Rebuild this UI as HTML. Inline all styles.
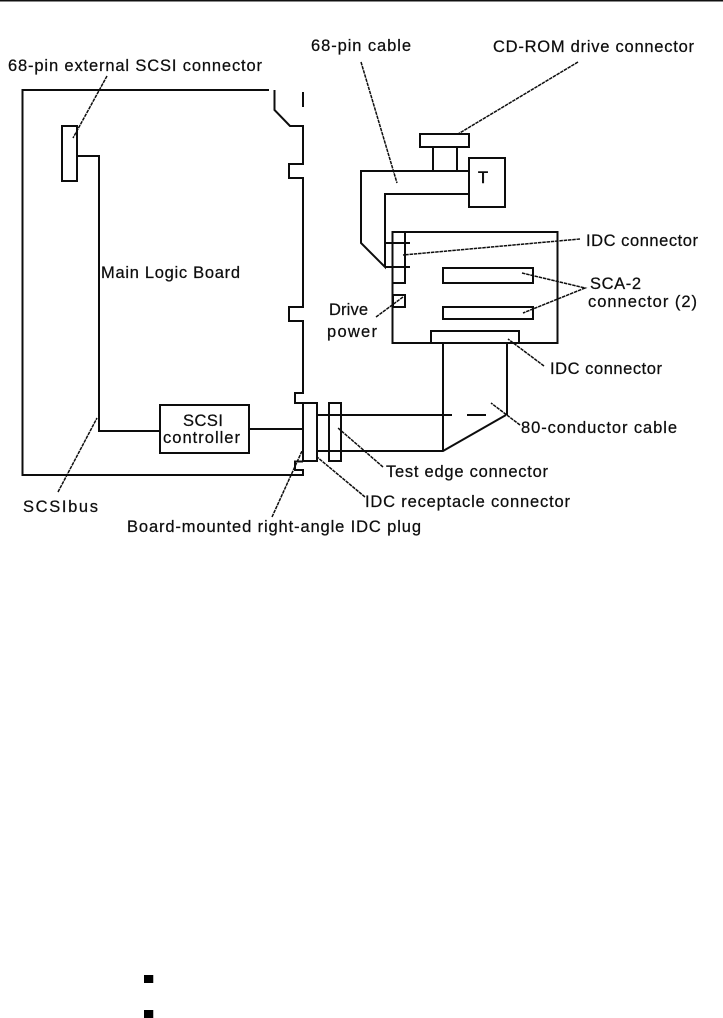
<!DOCTYPE html>
<html><head><meta charset="utf-8"><style>
html,body{margin:0;padding:0;background:#fff}
svg{display:block}
text{font-family:"Liberation Sans",sans-serif;font-size:16.5px;fill:#111;stroke:#111;stroke-width:.25}
.l{fill:none;stroke:#111;stroke-width:2}
.d{fill:none;stroke:#111;stroke-width:1.5;stroke-dasharray:3.5 .8}
</style></head><body>
<svg width="723" height="1018" viewBox="0 0 723 1018" xmlns="http://www.w3.org/2000/svg">
<defs><filter id="b" x="0" y="0" width="100%" height="100%"><feGaussianBlur stdDeviation="0.35"/></filter></defs>
<rect x="0" y="0" width="723" height="1.5" fill="#111"/>
<g filter="url(#b)">
<g class="l">
<path d="M269 90H22.500V475H303V470H295V461.500H303M274.500 90V110L290 126H303V164H289V178H303V307H289V321H303V393H295V403H303"/>
<path d="M303 92V107"/>
<rect x="62" y="126" width="15" height="55"/>
<path d="M77 156H100M99 156V431H160"/>
<rect x="160" y="405" width="89" height="48"/>
<path d="M249 429H303"/>
<rect x="303" y="403" width="14" height="58"/>
<rect x="329" y="403" width="12" height="58"/>
<path d="M317 415H452M467 415H486M317 451H443L506 415M443 343V451M507 343V415"/>
<rect x="392.500" y="232" width="165" height="111"/>
<rect x="431" y="331" width="88" height="12"/>
<rect x="443" y="268" width="90" height="15"/>
<rect x="443" y="307" width="90" height="12"/>
<path d="M405 232V283H393M385 243H410M385 267H410"/>
<rect x="393" y="295" width="12" height="12"/>
<path d="M469 171H361V243L385 267V194H469"/>
<rect x="469" y="158" width="36" height="49"/>
<rect x="420" y="134" width="49" height="13"/>
<path d="M433 147V171M457 147V171"/>
</g>
<g class="d">
<path d="M107 76L73 138"/>
<path d="M361 62L397 183"/>
<path d="M578 62L458 134"/>
<path d="M580 239L403 255"/>
<path d="M522 273L585 288L523 313"/>
<path d="M376 317L403 297"/>
<path d="M544 366L508 339"/>
<path d="M520 425L491 403"/>
<path d="M383 467L338 428"/>
<path d="M365 497L317 457"/>
<path d="M272 517L302 451"/>
<path d="M58 492L97 418"/>
</g>
<text x="8" y="71" textLength="254">68-pin external SCSI connector</text>
<text x="311" y="51" textLength="100">68-pin cable</text>
<text x="493" y="52" textLength="201">CD-ROM drive connector</text>
<text x="101" y="278" textLength="139">Main Logic Board</text>
<text x="586" y="246" textLength="112">IDC connector</text>
<text x="590" y="289" textLength="51">SCA-2</text>
<text x="588" y="307" textLength="109">connector (2)</text>
<text x="329" y="315" textLength="39">Drive</text>
<text x="327" y="337" textLength="50">power</text>
<text x="183" y="426" textLength="40">SCSI</text>
<text x="163" y="443" textLength="77">controller</text>
<text x="23" y="512" textLength="75">SCSIbus</text>
<text x="127" y="532" textLength="294">Board-mounted right-angle IDC plug</text>
<text x="550" y="374" textLength="112">IDC connector</text>
<text x="521" y="433" textLength="156">80-conductor cable</text>
<text x="386" y="477" textLength="162">Test edge connector</text>
<text x="365" y="507" textLength="205">IDC receptacle connector</text>
<text x="478" y="183" textLength="11" style="stroke-width:.5">T</text>
</g>
<rect x="144" y="975" width="9" height="8" fill="#000"/>
<rect x="153" y="975" width="1" height="8" fill="#bbb"/>
<rect x="144" y="1010" width="9" height="8" fill="#000"/>
<rect x="153" y="1010" width="1" height="8" fill="#bbb"/>
</svg>
</body></html>
